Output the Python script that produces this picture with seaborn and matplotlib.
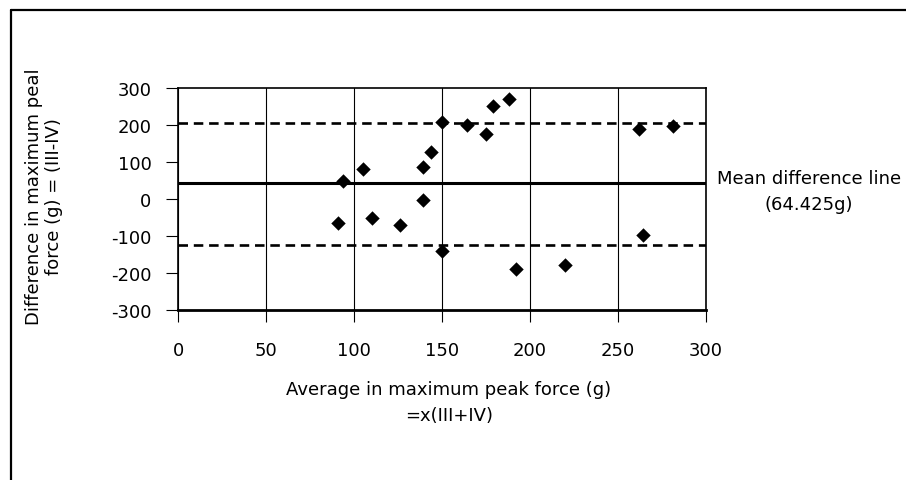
import numpy as np
import pandas as pd
import seaborn as sns
import matplotlib.pyplot as plt
from matplotlib.lines import Line2D

# values
avg_force = [91, 94, 105, 110, 126, 139, 139, 144, 150, 150, 164, 175, 179, 188, 192, 220, 262, 264, 281]
diff_force = [-66, 48, 80, -52, -70, -3, 87, 127, 209, -140, 200, 175, 252, 271, -188, -178, 190, -97, 197]
mean_diff = 43
upper_limit = 206
lower_limit = -123
x_ticks = [0, 50, 100, 150, 200, 250, 300]
y_ticks = [-300, -200, -100, 0, 100, 200, 300]

df = pd.DataFrame({'avg': avg_force, 'diff': diff_force})

sns.set_style('white')
plt.rcParams['font.family'] = ['DejaVu Sans']
plt.rcParams['font.size'] = 13
plt.rcParams['axes.unicode_minus'] = False
plt.rcParams['text.color'] = 'black'
plt.rcParams['axes.labelcolor'] = 'black'
plt.rcParams['xtick.color'] = 'black'
plt.rcParams['ytick.color'] = 'black'

fig = plt.figure(figsize=(9.06, 4.81), dpi=100)
ax = fig.add_axes([178 / 906, 170 / 481, 528 / 906, 222 / 481])

ax = sns.scatterplot(x='avg', y='diff', data=df, marker='D', s=54, color='black',
                     linewidth=0, zorder=5, ax=ax)

ax.axhline(mean_diff, color='black', lw=2.2, zorder=3)
ax.axhline(upper_limit, color='black', lw=1.9, ls=(0, (3.6, 2.2)), zorder=3)
ax.axhline(lower_limit, color='black', lw=1.9, ls=(0, (3.6, 2.2)), zorder=3)

ax.set_xlim(0, 300)
ax.set_ylim(-300, 300)
ax.set_xticks(x_ticks)
ax.set_yticks(y_ticks)
ax.xaxis.grid(True, color='black', lw=0.8)
ax.yaxis.grid(False)
ax.set_axisbelow(True)

for side in ['left', 'top', 'right']:
    ax.spines[side].set_color('black')
    ax.spines[side].set_linewidth(1.2)
ax.spines['bottom'].set_color('black')
ax.spines['bottom'].set_linewidth(2.0)

ax.tick_params(axis='both', direction='out', length=8.6, width=0.8, color='black',
               labelcolor='black', labelsize=13, bottom=True, left=True)
ax.tick_params(axis='y', pad=10.5)
ax.tick_params(axis='x', pad=14)

ax.set_ylabel('Difference in maximum peal\nforce (g) = (III-IV)', fontsize=13, linespacing=1.15)
ax.yaxis.set_label_coords(-0.218, 0.514)
ax.set_xlabel('Average in maximum peak force (g)\n=x(III+IV)', fontsize=13, linespacing=1.55)
ax.xaxis.set_label_coords(0.513, -0.315)

ax.text(1.195, 0.536, 'Mean difference line\n(64.425g)', transform=ax.transAxes,
        ha='center', va='center', fontsize=13, linespacing=1.6, clip_on=False)

# outer frame of the figure box
fig.add_artist(Line2D([11 / 906, 1], [1 - 11 / 481, 1 - 11 / 481], color='black', lw=1.6))
fig.add_artist(Line2D([11 / 906, 11 / 906], [0, 1 - 11 / 481], color='black', lw=1.6))

plt.savefig('out.png', dpi=100)
